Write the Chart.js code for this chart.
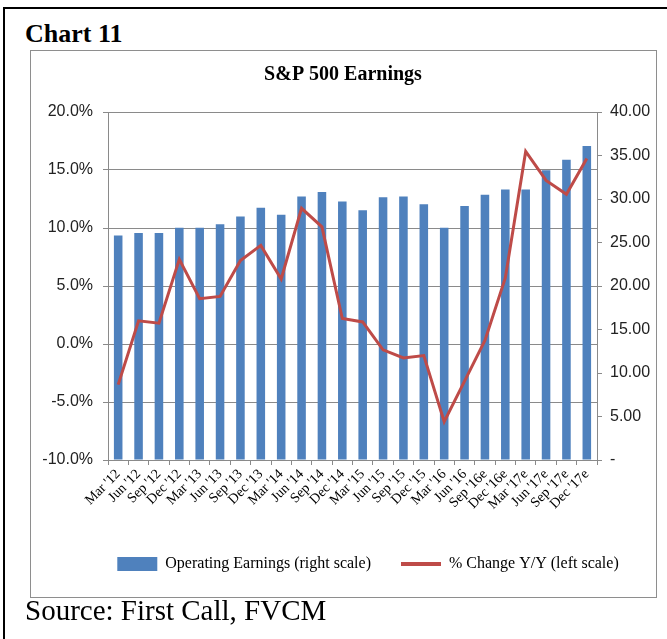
<!DOCTYPE html>
<html lang="en">

<head>
    <meta charset="UTF-8">
    <title>S&amp;P 500 Earnings</title>
    <script src="https://cdn.jsdelivr.net/npm/chart.js@4.4.0/dist/chart.umd.min.js"></script>
    <style>
        body { margin: 0; background: #fff; width: 667px; height: 639px; position: relative; overflow: hidden; }
        #frame { position: absolute; left: 3px; top: 7px; width: 700px; height: 700px; border-left: 2px solid #000; border-top: 2px solid #000; }
        #head { position: absolute; left: 25px; top: 19px; font: bold 26px "Liberation Serif", serif; color: #000; }
        #box { position: absolute; left: 30px; top: 50px; width: 625px; height: 546px; border: 1px solid #8e8e8e; }
        #wrap { position: absolute; left: 31px; top: 52px; width: 624px; height: 544px; }
        #source { position: absolute; left: 25px; top: 594px; font: 29px "Liberation Serif", serif; color: #000; }
    </style>
</head>

<body>
    <div id="frame"></div>
    <div id="head">Chart 11</div>
    <div id="box"></div>
    <div id="wrap"><canvas id="mychart"></canvas></div>
    <div id="source">Source: First Call, FVCM</div>

    <script>
        const quarters = ["Mar '12", "Jun '12", "Sep '12", "Dec '12", "Mar '13", "Jun '13", "Sep '13", "Dec '13",
            "Mar '14", "Jun '14", "Sep '14", "Dec '14", "Mar '15", "Jun '15", "Sep '15", "Dec '15",
            "Mar '16", "Jun '16", "Sep '16e", "Dec '16e", "Mar '17e", "Jun '17e", "Sep '17e", "Dec '17e"];
        // operating earnings, right scale ($)
        const earnings = [25.8, 26.1, 26.1, 26.7, 26.7, 27.1, 28.0, 29.0, 28.2, 30.3, 30.8, 29.7,
            28.7, 30.2, 30.3, 29.4, 26.7, 29.2, 30.5, 31.1, 31.1, 33.3, 34.5, 36.1];
        // % change y/y, left scale
        const pctChange = [-3.5, 2.0, 1.8, 7.3, 3.9, 4.1, 7.2, 8.5, 5.6, 11.7, 10.1, 2.2,
            1.9, -0.5, -1.2, -1.0, -6.7, -3.2, 0.3, 5.7, 16.6, 14.1, 12.9, 16.0];

        const blue = '#4F81BD';
        const red = '#BE4B48';
        const gridColor = '#8a8a8a';
        const tickFont = { family: 'Liberation Sans', size: 16 };

        // legend in the original sits a little right of centre
        const legendShift = {
            id: 'legendShift',
            afterLayout: function (chart) {
                chart.legend.left += 50;
            }
        };

        var ctx = document.getElementById('mychart');
        var mychart = new Chart(ctx, {
            type: 'bar',
            data: {
                labels: quarters,
                datasets: [{
                    type: 'line',
                    label: '% Change Y/Y (left scale)',
                    data: pctChange,
                    yAxisID: 'y',
                    borderColor: red,
                    borderWidth: 3,
                    pointRadius: 0,
                    tension: 0,
                    order: 0,
                }, {
                    label: 'Operating Earnings (right scale)',
                    data: earnings,
                    yAxisID: 'y1',
                    backgroundColor: blue,
                    categoryPercentage: 1,
                    barPercentage: 0.42,
                    order: 1,
                }],
            },
            plugins: [legendShift],
            options: {
                responsive: true,
                maintainAspectRatio: false,
                animation: false,
                layout: { padding: { left: 0, right: 0, top: 0, bottom: 14 } },
                plugins: {
                    title: {
                        display: true,
                        text: 'S&P 500 Earnings',
                        color: '#000',
                        font: { family: 'Liberation Serif', size: 20, weight: 'bold' },
                        padding: { top: 11, bottom: 25 },
                    },
                    legend: {
                        position: 'bottom',
                        labels: {
                            usePointStyle: true,
                            pointStyleWidth: 40,
                            boxHeight: 14,
                            padding: 30,
                            color: '#000',
                            font: { family: 'Liberation Serif', size: 16 },
                            generateLabels: function () {
                                return [
                                    { text: 'Operating Earnings (right scale)', fillStyle: blue, strokeStyle: blue, lineWidth: 0, pointStyle: 'rect', datasetIndex: 1 },
                                    { text: '% Change Y/Y (left scale)', fillStyle: red, strokeStyle: red, lineWidth: 4, pointStyle: 'line', datasetIndex: 0 },
                                ];
                            },
                        },
                    },
                    tooltip: { enabled: false },
                },
                scales: {
                    x: {
                        grid: { offset: true, drawOnChartArea: false, color: gridColor, tickLength: 5 },
                        border: { color: gridColor },
                        ticks: {
                            minRotation: 45, maxRotation: 45, autoSkip: false, padding: 1,
                            color: '#000',
                            font: { family: 'Liberation Serif', size: 14 },
                        },
                        afterFit: function (scale) { scale.height = 66; },
                    },
                    y: {
                        position: 'left',
                        min: -10, max: 20,
                        ticks: {
                            stepSize: 5, padding: 10, color: '#222', font: tickFont,
                            callback: function (v) { return v.toFixed(1) + '%'; },
                        },
                        grid: { color: gridColor, tickLength: 5 },
                        border: { color: gridColor },
                        afterFit: function (scale) { scale.width = 77; },
                    },
                    y1: {
                        position: 'right',
                        min: 0, max: 40,
                        ticks: {
                            stepSize: 5, padding: 8, color: '#222', font: tickFont,
                            callback: function (v) { return v === 0 ? '-' : v.toFixed(2); },
                        },
                        grid: { drawOnChartArea: false, color: gridColor, tickLength: 5 },
                        border: { color: gridColor },
                        afterFit: function (scale) { scale.width = 58; },
                    },
                },
            },
        });
    </script>
</body>

</html>
